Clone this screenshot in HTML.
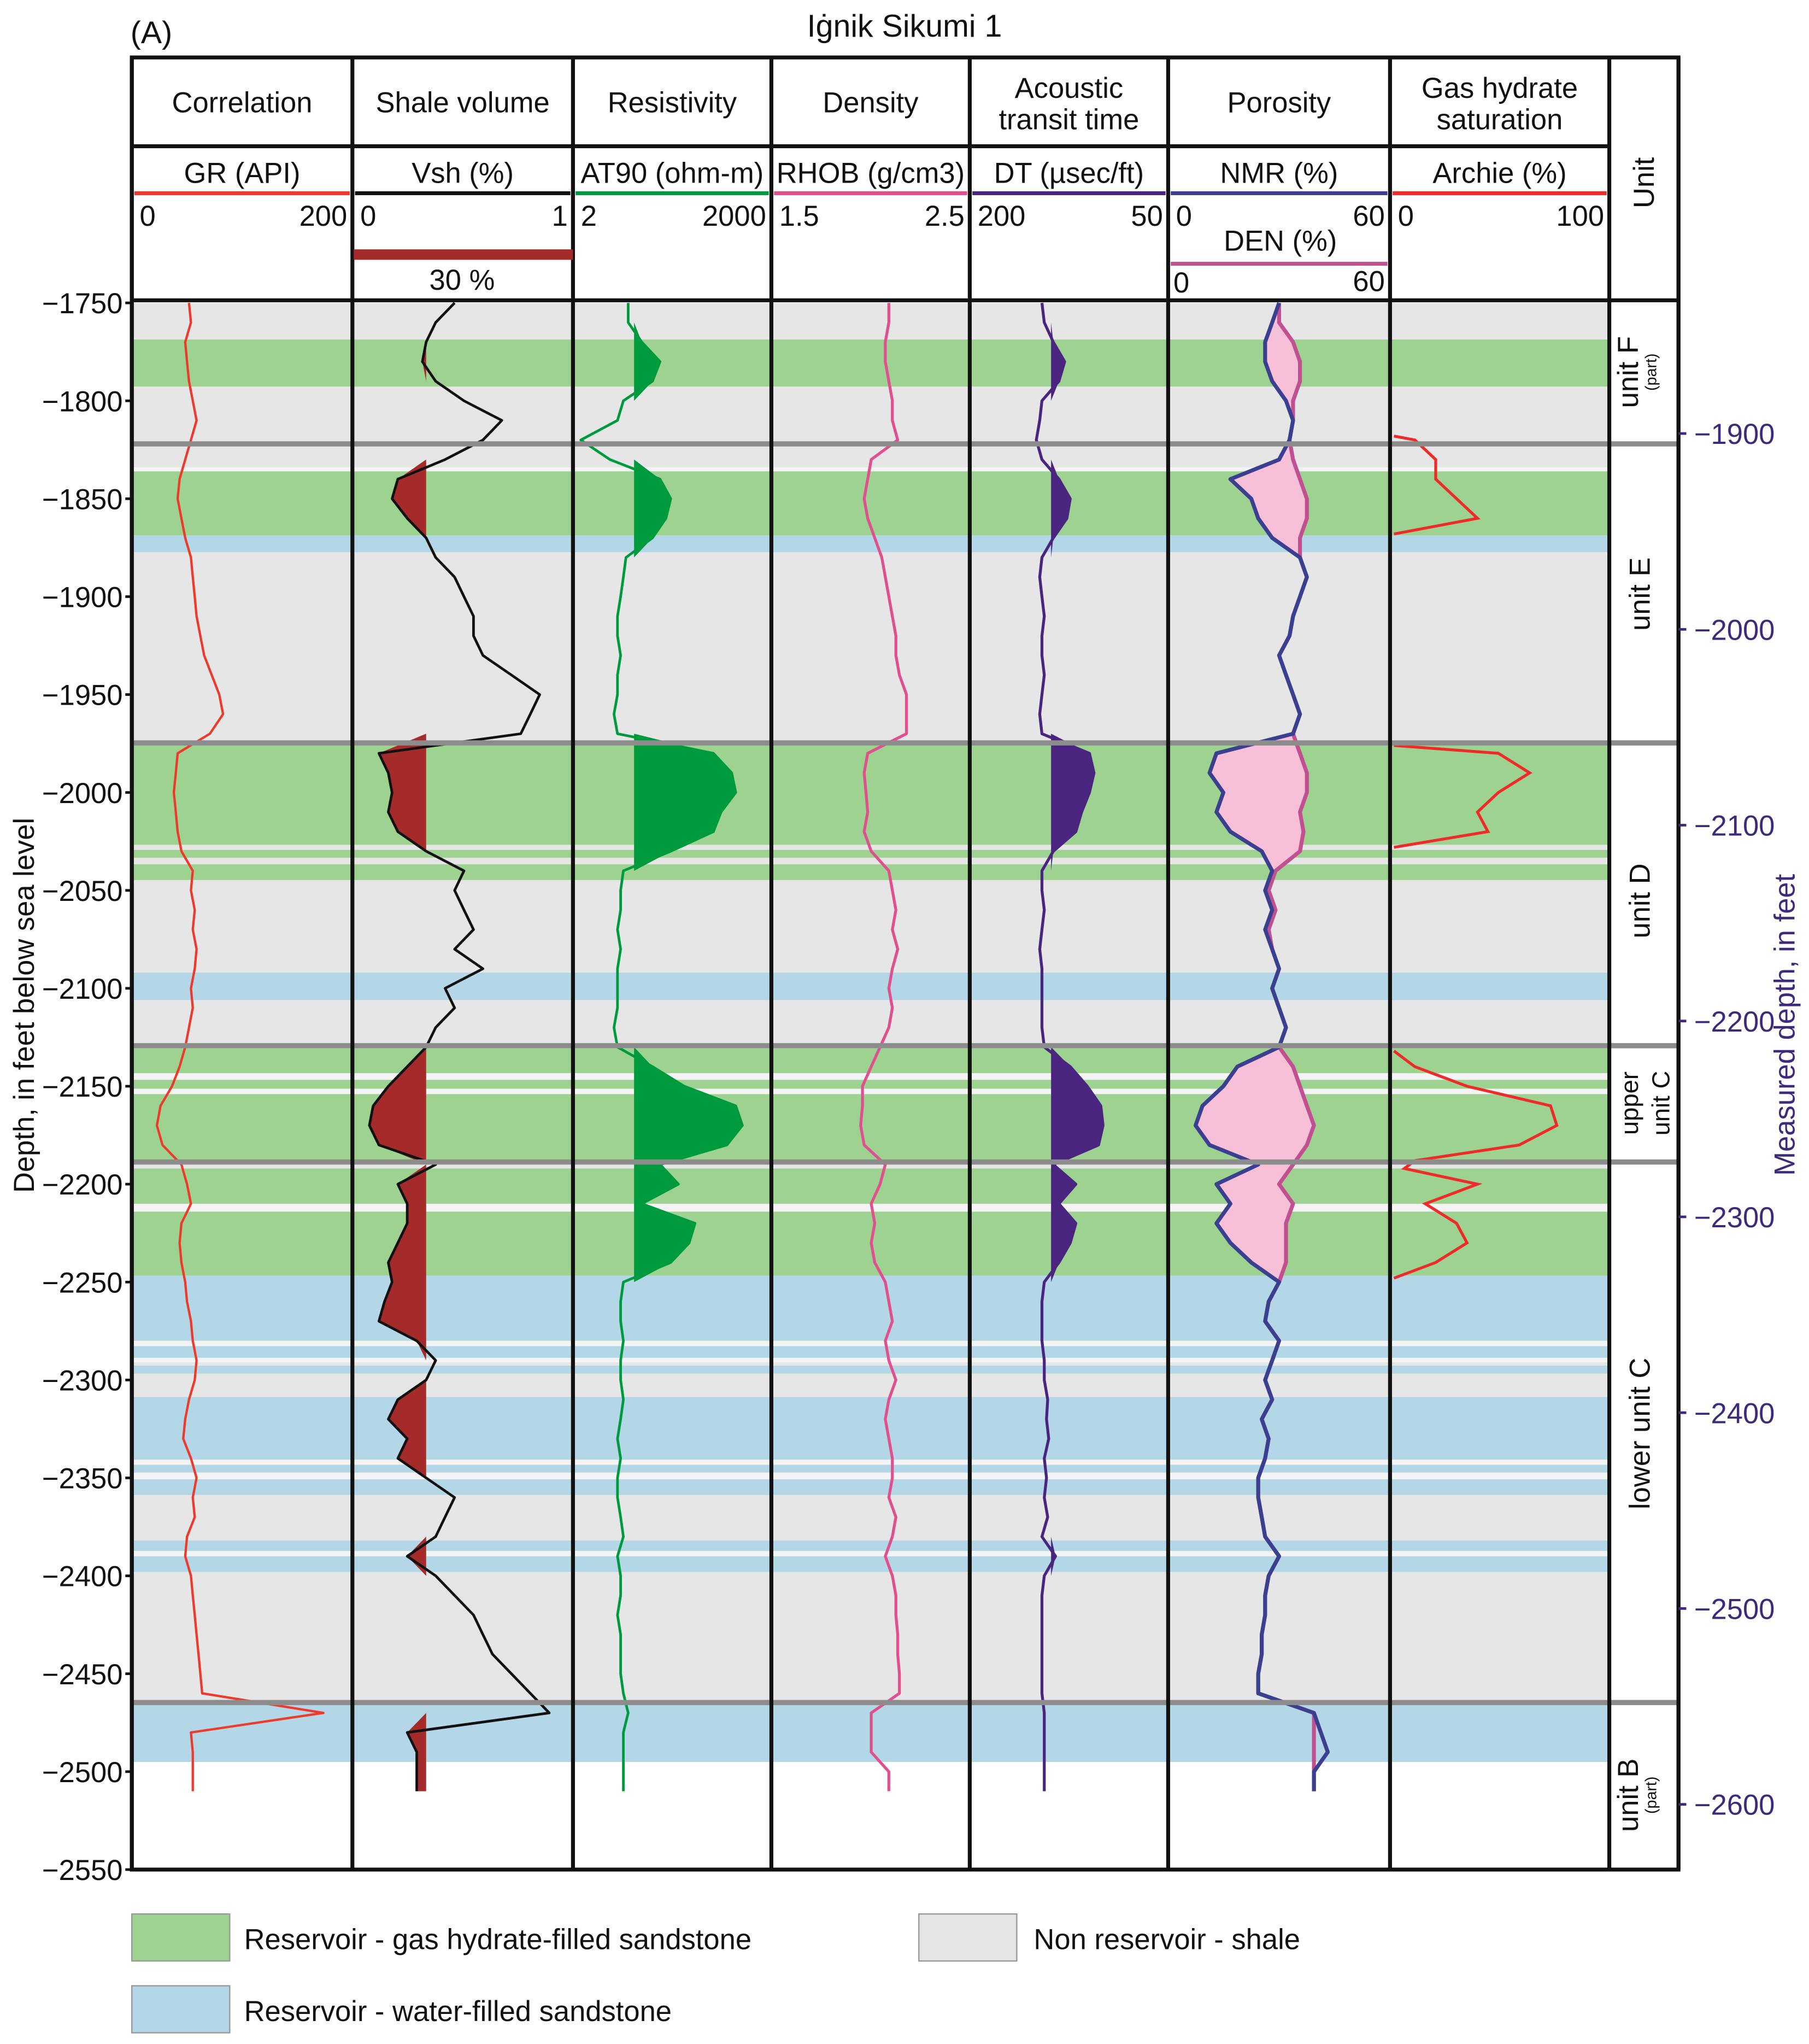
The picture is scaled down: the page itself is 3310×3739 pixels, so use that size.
<!DOCTYPE html>
<html><head><meta charset="utf-8"><style>
html,body{margin:0;padding:0;background:#fff;}
svg{display:block;font-family:"Liberation Sans",sans-serif;}
</style></head><body>
<svg id="chart" width="3310" height="3739" viewBox="0 0 1386 1565.6" preserveAspectRatio="none" xmlns="http://www.w3.org/2000/svg"></svg>
<script>
const depths=[1750,1760,1770,1780,1790,1800,1810,1820,1830,1840,1850,1860,1870,1880,1890,1900,1910,1920,1930,1940,1950,1960,1970,1980,1990,2000,2010,2020,2030,2040,2050,2060,2070,2080,2090,2100,2110,2120,2130,2140,2150,2160,2170,2180,2190,2200,2210,2220,2230,2240,2250,2260,2270,2280,2290,2300,2310,2320,2330,2340,2350,2360,2370,2380,2390,2400,2410,2420,2430,2440,2450,2460,2470,2480,2490,2500,2510];
const grValues=[48,50,44,46,48,52,56,50,44,38,36,40,44,50,52,54,56,60,64,72,80,84,70,36,34,32,34,36,40,52,50,54,52,56,54,50,52,48,44,38,30,18,14,20,40,46,50,40,38,40,44,46,50,52,56,54,48,44,42,50,56,52,54,46,44,50,52,54,56,58,60,62,190,50,52,52,52];
const vshValues=[0.45,0.35,0.3,0.28,0.35,0.5,0.7,0.6,0.4,0.15,0.12,0.2,0.3,0.35,0.45,0.5,0.55,0.55,0.6,0.75,0.9,0.85,0.8,0.05,0.1,0.12,0.1,0.15,0.3,0.5,0.45,0.5,0.55,0.45,0.6,0.4,0.45,0.35,0.3,0.2,0.1,0.02,0,0.05,0.35,0.15,0.2,0.2,0.15,0.1,0.12,0.08,0.05,0.25,0.35,0.3,0.15,0.1,0.2,0.15,0.3,0.45,0.4,0.35,0.2,0.35,0.45,0.55,0.6,0.65,0.75,0.85,0.95,0.2,0.25,0.25,0.25];
const at90Values=[12,12,20,40,30,10,8,2,6,40,60,50,30,11,10,9,8,8,9,8,8,7,8,300,600,700,400,300,60,10,9,9,8,9,8,8,8,7,8,30,100,700,900,500,40,80,20,150,120,60,10,9,9,10,9,9,10,9,8,9,8,8,9,10,8,9,9,8,9,9,9,10,12,10,10,10,10];
const rhobValues=[2.1,2.1,2.08,2.08,2.1,2.12,2.12,2.15,2.0,1.98,1.96,1.98,2.02,2.06,2.08,2.1,2.12,2.14,2.14,2.16,2.2,2.2,2.2,1.98,1.96,1.97,1.98,1.96,2.0,2.1,2.12,2.14,2.12,2.15,2.12,2.1,2.12,2.1,2.05,2.0,1.95,1.95,1.94,1.96,2.08,2.05,2.0,2.02,2.0,2.02,2.08,2.1,2.12,2.08,2.1,2.14,2.1,2.08,2.1,2.12,2.12,2.1,2.14,2.12,2.08,2.12,2.14,2.14,2.15,2.15,2.16,2.16,2.0,2.0,2.0,2.1,2.1];
const dtValues=[150,148,140,130,135,150,152,155,150,135,125,128,140,150,152,150,148,150,150,148,150,152,150,108,104,108,115,120,140,150,150,148,150,152,150,150,150,150,148,125,110,98,96,100,140,120,135,120,125,135,148,150,150,150,148,148,145,146,144,148,146,148,145,150,138,148,150,150,150,150,150,150,148,148,148,148,148];
const nmrValues=[30,28,26,26,28,32,34,33,30,16,22,24,28,36,38,36,34,33,30,32,34,36,34,12,10,14,12,16,25,28,26,28,26,28,30,28,30,32,30,18,14,8,6,10,24,12,16,12,16,22,30,27,26,30,28,26,28,25,27,26,24,24,25,26,30,27,26,26,25,25,24,24,40,42,44,40,40];
const denValues=[30,30,34,36,36,34,34,33,34,36,38,38,36,36,38,36,34,33,30,32,34,36,34,36,38,38,36,37,36,29,27,29,27,28,30,28,30,32,30,34,36,38,40,38,34,30,34,32,32,32,30,27,26,30,28,26,28,25,27,26,24,24,25,26,30,27,26,26,25,25,24,24,40,40,40,40,40];
const archieDepths=[[1818,1820,1830,1840,1850,1860,1868],[1976,1980,1990,2000,2010,2020,2028],[2132,2140,2150,2160,2170,2180,2188,2192,2200,2210,2220,2230,2240,2248]];
const archieValues=[[0,10,20,20,30,40,0],[0,50,65,50,40,45,0],[0,10,35,75,78,60,10,5,40,15,30,35,20,0]];
const depthTicks=[-1750,-1800,-1850,-1900,-1950,-2000,-2050,-2100,-2150,-2200,-2250,-2300,-2350,-2400,-2450,-2500,-2550];
const mdTicks=[-1900,-2000,-2100,-2200,-2300,-2400,-2500,-2600];
const unitBoundaries=[1822,1974.7,2129.3,2188.7,2464.7];
const greenBands=[[1768.7,1792.7],[1836,1868.7],[1975.3,2026.7],[2029.3,2033.3],[2036.7,2044.7],[2130.7,2143.3],[2146.7,2151.3],[2154,2188],[2192,2210],[2214,2246.7]];
const blueBands=[[1868.7,1877.3],[2092,2106],[2246.7,2280],[2282.7,2288.7],[2292.7,2296.7],[2308.7,2340.7],[2343.3,2347.3],[2350.7,2358.7],[2382,2387.3],[2390,2398],[2466,2495]];
const whiteLines=[[1834,1836],[2143.3,2146.7],[2151.3,2154],[2210,2214],[2280,2282.7],[2288.7,2291],[2340.7,2343.3],[2347.3,2350.7],[2387.3,2390]];

const svg=document.getElementById('chart');
const NS='http://www.w3.org/2000/svg';
function el(tag,attrs,parent){const e=document.createElementNS(NS,tag);for(const k in attrs)e.setAttribute(k,attrs[k]);(parent||svg).appendChild(e);return e;}
function txt(s,x,y,attrs,parent){const t=el('text',Object.assign({x:x,y:y,'font-size':22,'text-anchor':'middle',fill:'#111'},attrs||{}),parent);t.textContent=s;return t;}
const Y=d=>232+(d-1750)*1.5;
const L=101,R=1233,R2=1286;
const cols=[101,270,439,591,743,895,1065,1233,1286];

// background bands
let g=el('g',{});


el('rect',{x:L,y:Y(1750),width:R-L,height:Y(2495)-Y(1750),fill:'#e6e6e6'},g);
for(const b of greenBands){const r=el('rect',{x:L,y:Y(b[0]),width:R-L,height:Y(b[1])-Y(b[0]),fill:'#9dd290'},g);}
for(const b of blueBands){const r=el('rect',{x:L,y:Y(b[0]),width:R-L,height:Y(b[1])-Y(b[0]),fill:'#b3d7e6'},g);}
for(const b of whiteLines){el('rect',{x:L,y:Y(b[0]),width:R-L,height:Y(b[1])-Y(b[0]),fill:'#f4f4f4'},g);}

// track helpers
function path(pts){return pts.map((p,i)=>(i?'L':'M')+p[0].toFixed(1)+' '+p[1].toFixed(1)).join(' ');}
function curve(vals,xf,color,name,w){const pts=vals.map((v,i)=>[xf(v),Y(depths[i])]);const p=el('path',{d:path(pts),fill:'none',stroke:color,'stroke-width':w||2,'stroke-linejoin':'round'});return pts;}
function fillAbove(vals,xf,cut,color,name,dir){ // fill between cut and curve where curve beyond cut in dir
  const cx=xf(cut);const pts=vals.map((v,i)=>{let x=xf(v);if(dir>0?x<cx:x>cx)x=cx;return [x,Y(depths[i])];});
  const poly=[[cx,pts[0][1]]].concat(pts).concat([[cx,pts[pts.length-1][1]]]);
  const p=el('path',{d:path(poly)+'Z',fill:color,stroke:'none'});}

const xGR=v=>110+v/200*145;
const xVsh=v=>283+v*145;
const xAT=v=>445+(Math.log10(v)-Math.log10(2))/3*140;
const xRH=v=>600+(v-1.5)*135;
const xDT=v=>755+(200-v)/150*130;
const xPor=v=>900+v/60*160;
const xAr=v=>1068+v/100*160;

fillAbove(vshValues,xVsh,0.3,'#a52a2a','vsh-sand-fill',-1);
fillAbove(at90Values,xAT,15,'#009a3e','resistivity-fill',1);
fillAbove(dtValues,xDT,142,'#4a2580','dt-fill',1);
// porosity fill
{const a=denValues.map((v,i)=>[xPor(Math.max(v,nmrValues[i])),Y(depths[i])]);const b=nmrValues.map((v,i)=>[xPor(v),Y(depths[i])]).reverse();
const p=el('path',{d:path(a.concat(b))+'Z',fill:'#f8bfd8',stroke:'none'});}

curve(grValues,xGR,'#ee3a2c','gr-curve',1.8);
curve(vshValues,xVsh,'#111','vsh-curve',2);
curve(at90Values,xAT,'#009a3e','at90-curve',2);
curve(rhobValues,xRH,'#e0508f','rhob-curve',2.2);
curve(dtValues,xDT,'#4a2580','dt-curve',2.2);
curve(denValues,xPor,'#c0508f','den-curve',3);
curve(nmrValues,xPor,'#3a3f8f','nmr-curve',3);
for(let k=0;k<archieValues.length;k++){const pts=archieValues[k].map((v,i)=>[xAr(v),Y(archieDepths[k][i])]);const p=el('path',{d:path(pts),fill:'none',stroke:'#ee2a2a','stroke-width':2.2});}

// unit boundaries
for(const d of unitBoundaries){const l=el('line',{x1:L,x2:R2,y1:Y(d),y2:Y(d),stroke:'#8c8c8c','stroke-width':4});}

// frame
const fr=el('g',{stroke:'#111','stroke-width':3,fill:'none'});

el('rect',{x:L,y:44,width:R2-L,height:1432-44},fr);
for(const c of cols)el('line',{x1:c,x2:c,y1:44,y2:1432},fr);
el('line',{x1:L,x2:R,y1:112,y2:112},fr);
el('line',{x1:L,x2:R2,y1:230,y2:230},fr);

// header
txt('(A)',100,33,{'text-anchor':'start','font-size':24});
const ti=txt('Iġnik Sikumi 1',693,28,{'font-size':24});
const h1=[['Correlation'],['Shale volume'],['Resistivity'],['Density'],['Acoustic','transit time'],['Porosity'],['Gas hydrate','saturation']];
h1.forEach((h,i)=>{const cx=(cols[i]+cols[i+1])/2;if(h.length==1)txt(h[0],cx,86);else{txt(h[0],cx,75);txt(h[1],cx,99);}});
const h2=['GR (API)','Vsh (%)','AT90 (ohm-m)','RHOB (g/cm3)','DT (µsec/ft)','NMR (%)','Archie (%)'];
const hc=['#ee3a2c','#111','#009a3e','#e0508f','#4a2580','#3a3f8f','#ee2a2a'];
h2.forEach((h,i)=>{const cx=(cols[i]+cols[i+1])/2;const t=txt(h,cx,140);el('line',{x1:cols[i]+2,x2:cols[i+1]-2,y1:148,y2:148,stroke:hc[i],'stroke-width':3});});
const sc=[['0','200'],['0','1'],['2','2000'],['1.5','2.5'],['200','50'],['0','60'],['0','100']];
sc.forEach((s,i)=>{txt(s[0],cols[i]+6,173,{'text-anchor':'start'});txt(s[1],cols[i+1]-4,173,{'text-anchor':'end'});});
el('rect',{x:271,y:191,width:168,height:8,fill:'#a52a2a'});
txt('30 %',354,222);
txt('DEN (%)',981,192);
el('line',{x1:897,x2:1063,y1:202,y2:202,stroke:'#c0508f','stroke-width':3});
txt('0',899,224,{'text-anchor':'start'});txt('60',1061,223,{'text-anchor':'end'});
txt('Unit',0,0,{transform:'translate(1267,140) rotate(-90)'});

// unit labels
function vt(lines,cy,sizes){lines.forEach((s,i)=>{txt(s,0,0,{'font-size':sizes[i],transform:`translate(${1264+i*(sizes[i]<16?14:24)-(lines.length>1?(lines.length-1)*9:0)},${cy}) rotate(-90)`});});}
vt(['unit F','(part)'],285,[22,12]);
vt(['unit E'],455,[22]);
vt(['unit D'],690,[22]);
vt(['upper','unit C'],845,[19,19]);
vt(['lower unit C'],1098,[22]);
vt(['unit B','(part)'],1375,[22,12]);

// left axis
depthTicks.forEach(t=>{const y=Y(-t);txt('\u2212'+(-t),94,y+8,{'text-anchor':'end'});el('line',{x1:96,x2:101,y1:y,y2:y,stroke:'#111','stroke-width':2});});
txt('Depth, in feet below sea level',0,0,{transform:'translate(26,770) rotate(-90)'});
// right axis
mdTicks.forEach(t=>{const y=Y(-t-83.3);txt('\u2212'+(-t),1298,y+8,{'text-anchor':'start',fill:'#3d2a7a'});el('line',{x1:1286,x2:1292,y1:y,y2:y,stroke:'#3d2a7a','stroke-width':2});});
txt('Measured depth, in feet',0,0,{fill:'#3d2a7a',transform:'translate(1375,785) rotate(-90)'});

// legend
const lg=el('g',{});
el('rect',{x:101,y:1466,width:75,height:36,fill:'#9dd290',stroke:'#999'},lg);txt('Reservoir - gas hydrate-filled sandstone',187,1493,{'text-anchor':'start'},lg);
el('rect',{x:704,y:1466,width:75,height:36,fill:'#e6e6e6',stroke:'#999'},lg);txt('Non reservoir - shale',792,1493,{'text-anchor':'start'},lg);
el('rect',{x:101,y:1521,width:75,height:36,fill:'#b3d7e6',stroke:'#999'},lg);txt('Reservoir - water-filled sandstone',187,1548,{'text-anchor':'start'},lg);
</script>
</body></html>
